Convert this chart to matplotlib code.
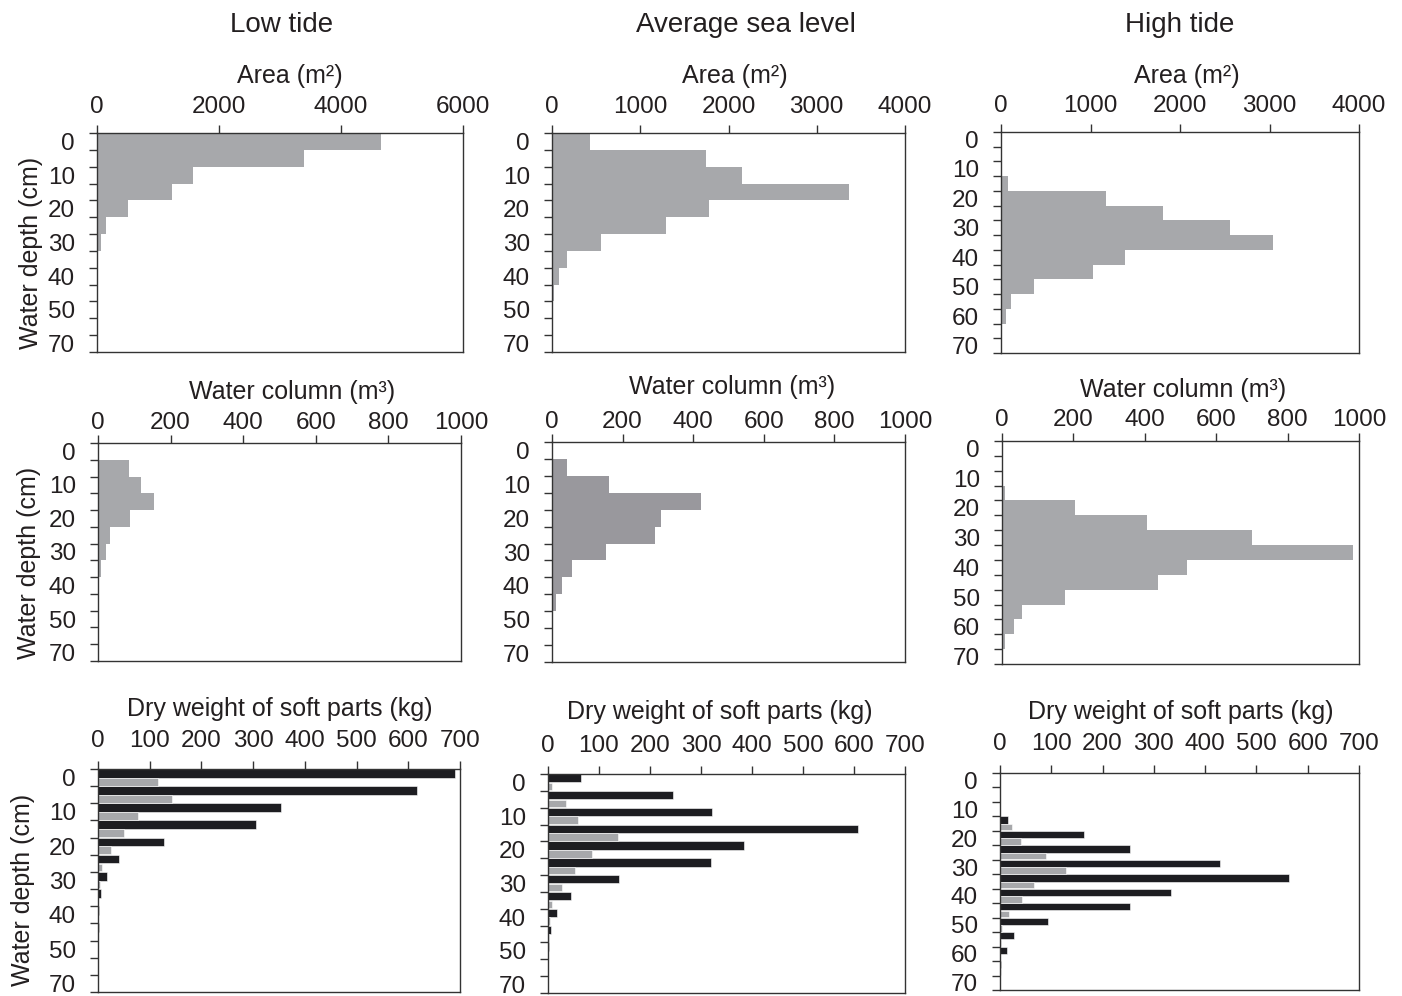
import numpy as np
import matplotlib
matplotlib.use("Agg")
import matplotlib.pyplot as plt

plt.rcParams['font.family'] = ['Liberation Sans', 'DejaVu Sans']

W, H = 1402, 996

columns = ["Low tide", "Average sea level", "High tide"]

# depth classes (5 cm steps), labels as printed on the figure
depth_13 = ["0", "", "10", "", "20", "", "30", "", "40", "", "50", "", "70"]
depth_15 = ["0", "", "10", "", "20", "", "30", "", "40", "", "50", "", "60", "", "70"]

# Area (m2)
low_area = [4650, 3390, 1580, 1230, 510, 150, 70, 20, 0, 0, 0, 0, 0]
avg_area = [430, 1750, 2150, 3370, 1780, 1290, 555, 175, 80, 20, 0, 0, 0]
high_area = [0, 0, 0, 75, 1175, 1805, 2560, 3035, 1380, 1025, 370, 110, 55, 0, 0]

# Water column (m3)
low_col = [0, 85, 118, 155, 89, 34, 21, 7, 0, 0, 0, 0, 0]
avg_col = [0, 43, 161, 421, 310, 291, 154, 56, 28, 12, 3, 0, 0]
high_col = [0, 0, 0, 9, 205, 406, 701, 984, 518, 436, 176, 57, 34, 8, 0]

# Dry weight of soft parts (kg): black and grey series
low_dw_black = [690, 616, 354, 306, 127, 41, 17, 6, 2.5, 2, 0, 0, 0]
low_dw_grey = [116, 143, 77, 50, 25, 8, 3, 0.5, 0, 0, 0, 0, 0]
avg_dw_black = [65, 246, 321, 607, 384, 319, 139, 46, 18, 6, 1, 0, 0]
avg_dw_grey = [8, 36, 59, 137, 86, 52, 27, 8, 3, 1, 0, 0, 0]
high_dw_black = [0, 0, 0, 16, 164, 253, 429, 564, 334, 253, 94, 27, 13, 2, 0]
high_dw_grey = [0, 0, 0, 23, 41, 90, 129, 66, 43, 18, 4, 1, 0, 2, 0]

GREY = "#a7a8ab"
GREY_DARK = "#99989d"
BLACK = "#1d1d21"
INK = "#231f20"

fig = plt.figure(figsize=(W / 100, H / 100), dpi=100)


def panel(box, labels, xmax, xstep, pad):
    l, t, r, b = box
    ax = fig.add_axes([l / W, 1 - b / H, (r - l) / W, (b - t) / H])
    n = len(labels)
    ax.set_ylim(n - 0.5, -0.5)
    ax.set_xlim(0, xmax)
    ax.set_xticks(np.arange(0, xmax + 1, xstep))
    ax.xaxis.tick_top()
    ax.tick_params(axis='x', direction='out', length=5.5, width=1, pad=pad,
                   labelsize=17.5, color='#333333', labelcolor=INK)
    ax.set_yticks(range(n))
    ax.set_yticklabels(labels)
    ax.set_yticks(np.arange(n + 1) - 0.5, minor=True)
    ax.tick_params(axis='y', which='major', length=0, pad=16,
                   labelsize=17.5, labelcolor=INK)
    ax.tick_params(axis='y', which='minor', direction='out', length=5.5,
                   width=1, color='#333333')
    for s in ax.spines.values():
        s.set_color('#333333')
        s.set_linewidth(1)
    return ax


def steps(ax, values, color):
    y = np.arange(len(values))
    ax.barh(y, values, height=1.0, color=color, linewidth=0)


def pairs(ax, black, grey):
    y = np.arange(len(black))
    ax.barh(y - 0.25, black, height=0.5, color=BLACK, edgecolor='white', linewidth=0.4)
    ax.barh(y + 0.24, grey, height=0.45, color=GREY, edgecolor='white', linewidth=0.4)


# row 1: area
ax = panel((97, 133, 463, 352), depth_13, 6000, 2000, 5.2)
steps(ax, low_area, GREY)
ax = panel((552, 133, 905, 352), depth_13, 4000, 1000, 5.2)
steps(ax, avg_area, GREY)
ax = panel((1001, 132, 1359, 353), depth_15, 4000, 1000, 5.2)
steps(ax, high_area, GREY)

# row 2: water column
ax = panel((98, 443, 461, 661), depth_13, 1000, 200, 1.0)
steps(ax, low_col, GREY)
ax = panel((552, 442, 905, 662), depth_13, 1000, 200, 1.1)
steps(ax, avg_col, GREY_DARK)
ax = panel((1002, 441, 1359, 664), depth_15, 1000, 200, 1.4)
steps(ax, high_col, GREY)

# row 3: dry weight
ax = panel((98, 769, 460, 992), depth_13, 700, 100, 7.0)
pairs(ax, low_dw_black, low_dw_grey)
ax = panel((548, 774, 905, 993), depth_13, 700, 100, 7.0)
pairs(ax, avg_dw_black, avg_dw_grey)
ax = panel((1000, 773, 1359, 990), depth_15, 700, 100, 7.5)
pairs(ax, high_dw_black, high_dw_grey)


def label(x, y, s, size=18, **kw):
    fig.text(x / W, 1 - y / H, s, ha='center', va='baseline', fontsize=size,
             color=INK, **kw)


for x, s in zip([282, 746, 1180], columns):
    label(x, 32, s, size=20)

for x in [290, 735, 1187]:
    label(x, 83, "Area (m²)")
for x, y in zip([292, 732, 1183], [399, 394, 397]):
    label(x, y, "Water column (m³)")
for x, y in zip([280, 720, 1181], [716, 719, 719]):
    label(x, y, "Dry weight of soft parts (kg)")

for x, y in [(31, 253), (29, 563), (23, 890)]:
    fig.text(x / W, 1 - y / H, "Water depth (cm)", rotation=90, ha='center',
             va='center', fontsize=18, color=INK)

fig.savefig("out.png", dpi=100)
